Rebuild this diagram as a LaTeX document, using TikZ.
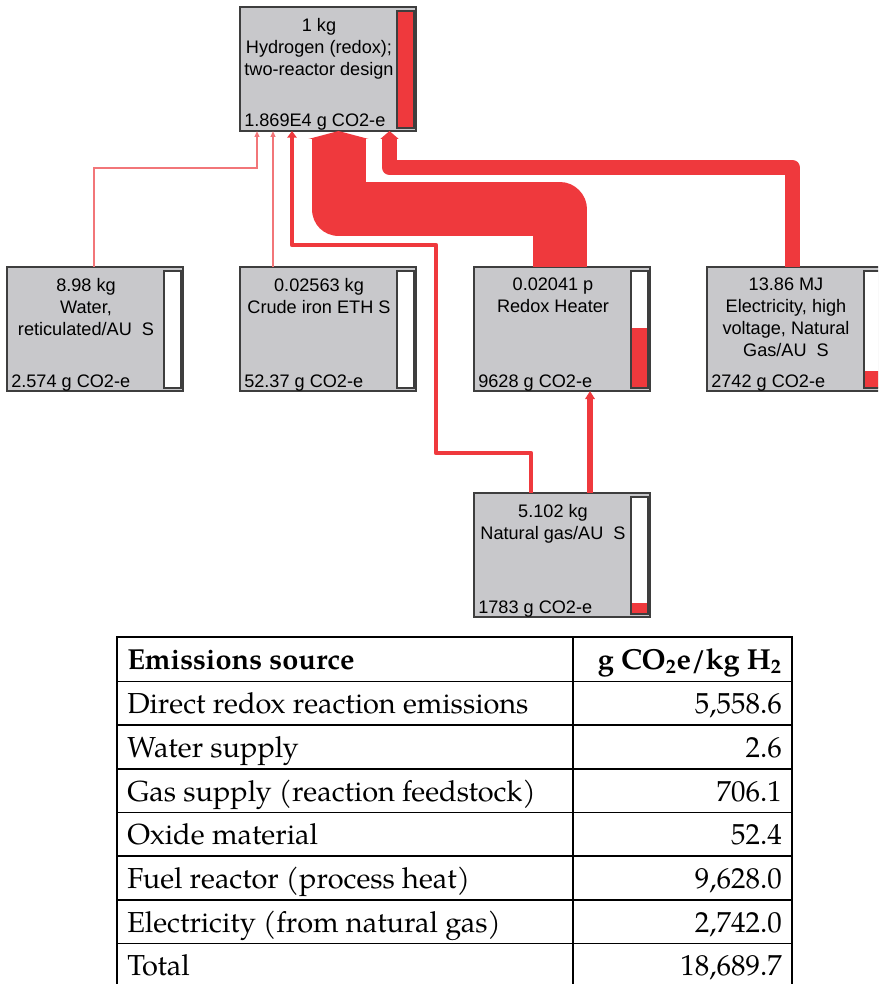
\documentclass[tikz,border=0pt]{standalone}
\usepackage{fontspec}
\setmainfont{Liberation Sans}
\newfontfamily\tabfont{TeX Gyre Pagella}
\usetikzlibrary{arrows.meta,calc}
\definecolor{boxgray}{RGB}{200,200,203}
\definecolor{edgegray}{RGB}{62,62,62}
\definecolor{flow}{RGB}{239,57,61}
\definecolor{thinflow}{RGB}{242,118,121}
\newcommand{\boxfont}{\fontsize{13.6}{16.5}\selectfont}
\newcommand{\tabfnt}{\tabfont\fontsize{21.7}{25}\selectfont}
% #1 name, #2 cx, #3 cy, #4 text, #5 bottom text, #6 red height (px)
\newcommand{\procbox}[6]{%
  \node[pbox] (#1) at (#2,#3) {};
  \fill[white] ($(#1.north west)+(157,4)$) rectangle ($(#1.north west)+(174,121)$);
  \fill[flow] ($(#1.north west)+(157,{121-#6})$) rectangle ($(#1.north west)+(174,121)$);
  \draw[bar] ($(#1.north west)+(157,4)$) rectangle ($(#1.north west)+(174,121)$);
  \node[ptext, anchor=north] (#1t) at ($(#1.north west)+(79,11)$) {#4};
  \node[ptext, anchor=base west] (#1b) at ($(#1.north west)+(4,120)$) {#5};
}
\begin{document}
\begin{tikzpicture}[x=0.75pt,y=-0.75pt,
  pbox/.style={draw=edgegray, fill=boxgray, line width=1.1pt, minimum width=132pt, minimum height=93pt, inner sep=0pt, outer sep=0pt},
  bar/.style={draw=edgegray, line width=0.9pt},
  ptext/.style={inner sep=0pt, font=\boxfont, align=center},
  thinline/.style={draw=thinflow, line width=1.2pt, -{Triangle[length=4.5pt,width=3.6pt]}},
  gasline/.style={draw=flow, line width=3.2pt, line join=round, -{Triangle[length=5pt,width=7pt]}},
  gasline2/.style={draw=flow, line width=4.2pt, -{Triangle[length=6pt,width=7pt]}},
  eflow/.style={draw=flow, line width=11.25pt, line join=round, -{Triangle[length=6pt,width=13.5pt]}},
  bigflow/.style={draw=flow, line width=40.5pt, line join=round, -{Triangle[length=6pt,width=45pt]}},
  tline/.style={draw=black, line width=1.1pt},
  tleft/.style={inner sep=0pt, anchor=base west, font=\tabfnt},
  tright/.style={inner sep=0pt, anchor=base east, font=\tabfnt},
]
\useasboundingbox (0,0) rectangle (878,984);
\clip (0,0) rectangle (878,984);

% process boxes
\procbox{T}{328}{69}{1 kg\\Hydrogen (redox);\\two-reactor design}{1.869E4 g CO2-e}{117}
\procbox{W}{95}{329}{8.98 kg\\Water,\\reticulated/AU~~S}{2.574 g CO2-e}{0}
\procbox{C}{328}{329}{0.02563 kg\\Crude iron ETH S}{52.37 g CO2-e}{0}
\procbox{H}{562}{329}{0.02041 p\\Redox Heater}{9628 g CO2-e}{60}
\procbox{E}{795}{329}{13.86 MJ\\Electricity, high\\voltage, Natural\\Gas/AU~~S}{2742 g CO2-e}{17}
\procbox{N}{562}{555}{5.102 kg\\Natural gas/AU~~S}{1783 g CO2-e}{11}

% connectors
\draw[thinline] ($(W.north west)+(87,0)$) |- ($(T.south west)+(17,37)$) -- ($(T.south west)+(17,0)$);
\draw[thinline] ($(C.north west)+(33,0)$) -- ($(T.south west)+(33,0)$);
\draw[gasline] ($(N.north west)+(57,0)$) |- ($(N.north west)+(-38,-40)$) |- ($(T.south west)+(52,114)$) -- ($(T.south west)+(52,0)$);
\draw[gasline2] ($(N.north west)+(116,0)$) -- ($(H.south west)+(116,0)$);
\draw[bigflow] ($(H.north west)+(86,0)$) |- ($(T.south west)+(98.5,78.5)$) -- ($(T.south west)+(98.5,0)$);
\draw[eflow] ($(E.north west)+(85.5,0)$) |- ($(T.south west)+(149.5,36.5)$) -- ($(T.south west)+(149.5,0)$);

% table
\draw[tline] (117,637) rectangle (792,995);
\draw[tline] (573,637) -- (573,995);
\foreach \yy in {681.5,725,769,812.5,856,900,943.5}
  \draw[tline] (117,\yy) -- (792,\yy);
\node[tleft] (hA) at (127,669) {\bfseries Emissions source};
\node[tright] (hB) at (782,669) {\bfseries g CO\textsubscript{2}e/kg H\textsubscript{2}};
\foreach \i/\yy/\la/\lb in {1/713.5/Direct redox reaction emissions/{5,558.6},
  2/757/Water supply/2.6,
  3/801/Gas supply (reaction feedstock)/706.1,
  4/844.5/Oxide material/52.4,
  5/888/Fuel reactor (process heat)/{9,628.0},
  6/932/Electricity (from natural gas)/{2,742.0},
  7/975.5/Total/{18,689.7}}{
  \node[tleft] (ra\i) at (127,\yy) {\la};
  \node[tright] (rb\i) at (782,\yy) {\lb};
}
\end{tikzpicture}
\end{document}
